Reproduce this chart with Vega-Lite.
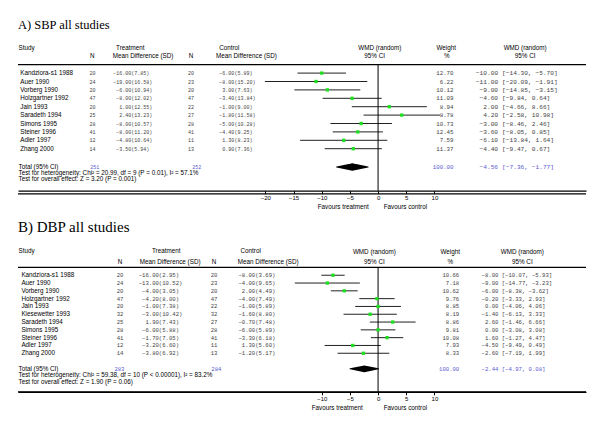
{
  "$schema": "https://vega.github.io/schema/vega-lite/v6.json",
  "background": "white",
  "padding": {"left": 17, "right": 15, "top": 18.5, "bottom": 5},
  "spacing": 9,
  "config": {
    "view": {"stroke": null},
    "text": {"font": "Liberation Sans", "fontSize": 6.3, "color": "black", "baseline": "middle"},
    "axis": {"grid": false, "domain": true, "ticks": true, "domainColor": "black", "domainWidth": 1.3, "tickColor": "black", "tickWidth": 1, "tickSize": 3, "labelFont": "Liberation Sans", "labelFontSize": 6, "labelColor": "black", "labelPadding": 1, "labelFlush": false, "zindex": 1}
  },
  "datasets": {
    "one": [{}],
    "A": [
      {"s": "Kandziora-s1 1988", "nt": 20, "mt": -16.00, "st": 7.85, "nc": 20, "mc": -6.00, "sc": 5.89, "w": 12.70, "e": -10.00, "lo": -14.30, "hi": -5.70},
      {"s": "Auer 1990", "nt": 24, "mt": -19.00, "st": 16.58, "nc": 23, "mc": -8.00, "sc": 15.20, "w": 6.22, "e": -11.00, "lo": -20.09, "hi": -1.91},
      {"s": "Vorberg 1990", "nt": 20, "mt": -6.00, "st": 10.94, "nc": 20, "mc": 3.00, "sc": 7.63, "w": 10.12, "e": -9.00, "lo": -14.85, "hi": -3.15},
      {"s": "Holzgartner 1992", "nt": 47, "mt": -8.00, "st": 12.02, "nc": 47, "mc": -3.40, "sc": 13.84, "w": 11.09, "e": -4.60, "lo": -9.84, "hi": 0.64},
      {"s": "Jain 1993", "nt": 20, "mt": 1.00, "st": 12.55, "nc": 22, "mc": -1.00, "sc": 9.00, "w": 8.94, "e": 2.00, "lo": -4.66, "hi": 8.66},
      {"s": "Saradeth 1994", "nt": 25, "mt": 2.40, "st": 13.23, "nc": 27, "mc": -1.80, "sc": 11.58, "w": 8.78, "e": 4.20, "lo": -2.58, "hi": 10.98},
      {"s": "Simons 1995", "nt": 28, "mt": -8.00, "st": 10.57, "nc": 28, "mc": -5.00, "sc": 10.28, "w": 10.73, "e": -3.00, "lo": -8.46, "hi": 2.46},
      {"s": "Steiner 1996", "nt": 41, "mt": -8.00, "st": 11.20, "nc": 41, "mc": -4.40, "sc": 9.25, "w": 12.45, "e": -3.60, "lo": -8.05, "hi": 0.85},
      {"s": "Adler 1997", "nt": 12, "mt": -4.80, "st": 10.64, "nc": 11, "mc": 1.30, "sc": 8.23, "w": 7.59, "e": -6.10, "lo": -13.84, "hi": 1.64},
      {"s": "Zhang 2000", "nt": 14, "mt": -3.50, "st": 5.94, "nc": 13, "mc": 0.90, "sc": 7.36, "w": 11.37, "e": -4.40, "lo": -9.47, "hi": 0.67}
    ],
    "At": [{"nt": 251, "nc": 252, "w": 100.00, "e": -4.56, "lo": -7.36, "hi": -1.77}],
    "B": [
      {"s": "Kandziora-s1 1988", "nt": 20, "mt": -16.00, "st": 2.95, "nc": 20, "mc": -8.00, "sc": 3.69, "w": 10.66, "e": -8.00, "lo": -10.07, "hi": -5.93},
      {"s": "Auer 1990", "nt": 24, "mt": -13.00, "st": 10.52, "nc": 23, "mc": -4.00, "sc": 9.65, "w": 7.18, "e": -9.00, "lo": -14.77, "hi": -3.23},
      {"s": "Vorberg 1990", "nt": 20, "mt": -4.00, "st": 3.05, "nc": 20, "mc": 2.00, "sc": 4.49, "w": 10.62, "e": -6.00, "lo": -8.38, "hi": -3.62},
      {"s": "Holzgartner 1992", "nt": 47, "mt": -4.20, "st": 8.00, "nc": 47, "mc": -4.00, "sc": 7.49, "w": 9.76, "e": -0.20, "lo": -3.33, "hi": 2.93},
      {"s": "Jain 1993", "nt": 20, "mt": -1.00, "st": 7.38, "nc": 22, "mc": -1.00, "sc": 5.89, "w": 8.85, "e": 0.00, "lo": -4.06, "hi": 4.06},
      {"s": "Kiesewetter 1993", "nt": 32, "mt": -3.00, "st": 10.42, "nc": 32, "mc": -1.60, "sc": 8.80, "w": 8.19, "e": -1.40, "lo": -6.13, "hi": 3.33},
      {"s": "Saradeth 1994", "nt": 25, "mt": 1.90, "st": 7.43, "nc": 27, "mc": -0.70, "sc": 7.48, "w": 8.86, "e": 2.60, "lo": -1.46, "hi": 6.66},
      {"s": "Simons 1995", "nt": 28, "mt": -6.00, "st": 5.88, "nc": 28, "mc": -6.00, "sc": 5.89, "w": 9.81, "e": 0.00, "lo": -3.08, "hi": 3.08},
      {"s": "Steiner 1996", "nt": 41, "mt": -1.70, "st": 7.05, "nc": 41, "mc": -3.30, "sc": 6.18, "w": 10.08, "e": 1.60, "lo": -1.27, "hi": 4.47},
      {"s": "Adler 1997", "nt": 12, "mt": -3.20, "st": 6.60, "nc": 11, "mc": 1.30, "sc": 5.60, "w": 7.93, "e": -4.50, "lo": -9.49, "hi": 0.49},
      {"s": "Zhang 2000", "nt": 14, "mt": -3.80, "st": 6.92, "nc": 13, "mc": -1.20, "sc": 5.17, "w": 8.33, "e": -2.60, "lo": -7.19, "hi": 1.99}
    ],
    "Bt": [{"nt": 283, "nc": 284, "w": 100.00, "e": -2.44, "lo": -4.97, "hi": 0.08}]
  },
  "vconcat": [
    {
      "title": {"text": "A) SBP all studies", "anchor": "start", "frame": "group", "font": "Liberation Serif", "fontSize": 12.5, "fontWeight": "normal", "color": "black", "offset": 8},
      "width": 568,
      "height": 151.2,
      "data": {"name": "A"},
      "resolve": {"axis": {"x": "independent"}},
      "layer": [
        {"mark": {"type": "rule", "color": "#222222", "strokeWidth": 1},
         "encoding": {
           "x": {"field": "lo", "type": "quantitative", "scale": {"domain": [-63.9, 36.9], "nice": false, "zero": false}, "axis": {"values": [-20, -15, -10, -5, 0, 5, 10], "format": "d", "title": null, "domain": true, "ticks": true, "zindex": 1}},
           "x2": {"field": "hi"},
           "y": {"field": "s", "type": "nominal", "axis": null, "scale": {"type": "point", "padding": 1.45, "domain": ["h1", "h2", "line", "Kandziora-s1 1988", "Auer 1990", "Vorberg 1990", "Holzgartner 1992", "Jain 1993", "Saradeth 1994", "Simons 1995", "Steiner 1996", "Adler 1997", "Zhang 2000", "gap", "total", "het", "ovr"]}}
         }},
        {"data": {"name": "one"}, "mark": {"type": "rule", "color": "black", "strokeWidth": 1.2}, "encoding": {"y": {"datum": "line", "type": "nominal", "axis": null}}},
        {"data": {"name": "one"}, "mark": {"type": "rule", "color": "black", "strokeWidth": 1.3, "yOffset": 11.6}, "encoding": {"x": {"datum": -63.9, "type": "quantitative", "axis": null}, "x2": {"datum": 36.9}, "y": {"datum": "ovr", "type": "nominal", "axis": null}}},
        {"data": {"name": "one"}, "mark": {"type": "rule", "color": "black", "strokeWidth": 1}, "encoding": {"x": {"datum": 0, "type": "quantitative", "axis": null}, "y": {"datum": "line", "type": "nominal", "axis": null}, "y2": {"value": "height"}}},
        {"mark": {"type": "point", "shape": "square", "filled": true, "color": "#1ee01e", "size": 11, "opacity": 1}, "encoding": {"x": {"field": "e", "type": "quantitative", "axis": null}, "y": {"field": "s", "type": "nominal", "axis": null}}},
        {"mark": {"type": "text", "align": "left"}, "encoding": {"x": {"datum": -63.5, "type": "quantitative", "axis": null}, "y": {"field": "s", "type": "nominal", "axis": null}, "text": {"field": "s"}}},
        {"mark": {"type": "text", "align": "center", "font": "Liberation Mono", "fontSize": 5, "color": "#444444"}, "encoding": {"x": {"datum": -50.7, "type": "quantitative", "axis": null}, "y": {"field": "s", "type": "nominal", "axis": null}, "text": {"field": "nt"}}},
        {"mark": {"type": "text", "align": "right", "font": "Liberation Mono", "fontSize": 5, "color": "#444444"}, "encoding": {"x": {"datum": -43.8, "type": "quantitative", "axis": null}, "y": {"field": "s", "type": "nominal", "axis": null}, "text": {"field": "mt", "format": ".2f"}}},
        {"transform": [{"calculate": "'(' + format(datum.st, '.2f') + ')'", "as": "lab"}], "mark": {"type": "text", "align": "left", "font": "Liberation Mono", "fontSize": 5, "color": "#444444"}, "encoding": {"x": {"datum": -43.8, "type": "quantitative", "axis": null}, "y": {"field": "s", "type": "nominal", "axis": null}, "text": {"field": "lab"}}},
        {"mark": {"type": "text", "align": "center", "font": "Liberation Mono", "fontSize": 5, "color": "#444444"}, "encoding": {"x": {"datum": -33.2, "type": "quantitative", "axis": null}, "y": {"field": "s", "type": "nominal", "axis": null}, "text": {"field": "nc"}}},
        {"mark": {"type": "text", "align": "right", "font": "Liberation Mono", "fontSize": 5, "color": "#444444"}, "encoding": {"x": {"datum": -25.5, "type": "quantitative", "axis": null}, "y": {"field": "s", "type": "nominal", "axis": null}, "text": {"field": "mc", "format": ".2f"}}},
        {"transform": [{"calculate": "'(' + format(datum.sc, '.2f') + ')'", "as": "lab"}], "mark": {"type": "text", "align": "left", "font": "Liberation Mono", "fontSize": 5, "color": "#444444"}, "encoding": {"x": {"datum": -25.5, "type": "quantitative", "axis": null}, "y": {"field": "s", "type": "nominal", "axis": null}, "text": {"field": "lab"}}},
        {"mark": {"type": "text", "align": "right", "font": "Liberation Mono", "fontSize": 5.8, "color": "#444444"}, "encoding": {"x": {"datum": 13.4, "type": "quantitative", "axis": null}, "y": {"field": "s", "type": "nominal", "axis": null}, "text": {"field": "w", "format": ".2f"}}},
        {"mark": {"type": "text", "align": "right", "font": "Liberation Mono", "fontSize": 6.2, "color": "#444444"}, "encoding": {"x": {"datum": 21.3, "type": "quantitative", "axis": null}, "y": {"field": "s", "type": "nominal", "axis": null}, "text": {"field": "e", "format": ".2f"}}},
        {"transform": [{"calculate": "'[' + format(datum.lo, '.2f') + ', ' + format(datum.hi, '.2f') + ']'", "as": "lab"}], "mark": {"type": "text", "align": "left", "font": "Liberation Mono", "fontSize": 6.2, "color": "#444444"}, "encoding": {"x": {"datum": 22.0, "type": "quantitative", "axis": null}, "y": {"field": "s", "type": "nominal", "axis": null}, "text": {"field": "lab"}}},
        {"data": {"name": "At"}, "transform": [{"fold": ["lo", "e", "hi"], "as": ["k", "v"]}], "mark": {"type": "trail", "color": "black", "yOffset": 1.5}, "encoding": {"x": {"field": "v", "type": "quantitative", "axis": null}, "y": {"datum": "total", "type": "nominal", "axis": null}, "order": {"field": "v", "type": "quantitative"}, "size": {"condition": {"test": "datum.k === 'e'", "value": 7.3}, "value": 0}}},
        {"data": {"name": "At"}, "mark": {"type": "text", "align": "left", "text": "Total (95% CI)", "dy": 1.5}, "encoding": {"x": {"datum": -63.8, "type": "quantitative", "axis": null}, "y": {"datum": "total", "type": "nominal", "axis": null}}},
        {"data": {"name": "At"}, "mark": {"type": "text", "align": "center", "font": "Liberation Mono", "fontSize": 5, "color": "#5a5acf", "dy": 1.5}, "encoding": {"x": {"datum": -50.3, "type": "quantitative", "axis": null}, "y": {"datum": "total", "type": "nominal", "axis": null}, "text": {"field": "nt"}}},
        {"data": {"name": "At"}, "mark": {"type": "text", "align": "center", "font": "Liberation Mono", "fontSize": 5, "color": "#5a5acf", "dy": 1.5}, "encoding": {"x": {"datum": -32.2, "type": "quantitative", "axis": null}, "y": {"datum": "total", "type": "nominal", "axis": null}, "text": {"field": "nc"}}},
        {"data": {"name": "At"}, "mark": {"type": "text", "align": "right", "font": "Liberation Mono", "fontSize": 5.8, "color": "#5a5acf", "dy": 1.5}, "encoding": {"x": {"datum": 13.4, "type": "quantitative", "axis": null}, "y": {"datum": "total", "type": "nominal", "axis": null}, "text": {"field": "w", "format": ".2f"}}},
        {"data": {"name": "At"}, "mark": {"type": "text", "align": "right", "font": "Liberation Mono", "fontSize": 6.2, "color": "#5a5acf", "dy": 1.5}, "encoding": {"x": {"datum": 21.3, "type": "quantitative", "axis": null}, "y": {"datum": "total", "type": "nominal", "axis": null}, "text": {"field": "e", "format": ".2f"}}},
        {"data": {"name": "At"}, "transform": [{"calculate": "'[' + format(datum.lo, '.2f') + ', ' + format(datum.hi, '.2f') + ']'", "as": "lab"}], "mark": {"type": "text", "align": "left", "font": "Liberation Mono", "fontSize": 6.2, "color": "#5a5acf", "dy": 1.5}, "encoding": {"x": {"datum": 22.0, "type": "quantitative", "axis": null}, "y": {"datum": "total", "type": "nominal", "axis": null}, "text": {"field": "lab"}}},
        {"data": {"name": "one"}, "mark": {"type": "text", "align": "left", "text": "Test for heterogeneity: Chi² = 20.99, df = 9 (P = 0.01), I² = 57.1%", "dy": -0.5}, "encoding": {"x": {"datum": -63.8, "type": "quantitative", "axis": null}, "y": {"datum": "het", "type": "nominal", "axis": null}}},
        {"data": {"name": "one"}, "mark": {"type": "text", "align": "left", "text": "Test for overall effect: Z = 3.20 (P = 0.001)", "dy": -3}, "encoding": {"x": {"datum": -63.8, "type": "quantitative", "axis": null}, "y": {"datum": "ovr", "type": "nominal", "axis": null}}},
        {"data": {"name": "one"}, "mark": {"type": "text", "align": "left", "text": "Study"}, "encoding": {"x": {"datum": -63.8, "type": "quantitative", "axis": null}, "y": {"datum": "h1", "type": "nominal", "axis": null}}},
        {"data": {"name": "one"}, "mark": {"type": "text", "align": "left", "text": "Treatment"}, "encoding": {"x": {"datum": -46.5, "type": "quantitative", "axis": null}, "y": {"datum": "h1", "type": "nominal", "axis": null}}},
        {"data": {"name": "one"}, "mark": {"type": "text", "align": "left", "text": "Control"}, "encoding": {"x": {"datum": -28.2, "type": "quantitative", "axis": null}, "y": {"datum": "h1", "type": "nominal", "axis": null}}},
        {"data": {"name": "one"}, "mark": {"type": "text", "align": "center", "text": "WMD (random)"}, "encoding": {"x": {"datum": 0.3, "type": "quantitative", "axis": null}, "y": {"datum": "h1", "type": "nominal", "axis": null}}},
        {"data": {"name": "one"}, "mark": {"type": "text", "align": "center", "text": "Weight"}, "encoding": {"x": {"datum": 12.1, "type": "quantitative", "axis": null}, "y": {"datum": "h1", "type": "nominal", "axis": null}}},
        {"data": {"name": "one"}, "mark": {"type": "text", "align": "center", "text": "WMD (random)"}, "encoding": {"x": {"datum": 26.1, "type": "quantitative", "axis": null}, "y": {"datum": "h1", "type": "nominal", "axis": null}}},
        {"data": {"name": "one"}, "mark": {"type": "text", "align": "center", "text": "N"}, "encoding": {"x": {"datum": -50.7, "type": "quantitative", "axis": null}, "y": {"datum": "h2", "type": "nominal", "axis": null}}},
        {"data": {"name": "one"}, "mark": {"type": "text", "align": "left", "text": "Mean Difference (SD)"}, "encoding": {"x": {"datum": -47.1, "type": "quantitative", "axis": null}, "y": {"datum": "h2", "type": "nominal", "axis": null}}},
        {"data": {"name": "one"}, "mark": {"type": "text", "align": "center", "text": "N"}, "encoding": {"x": {"datum": -33.2, "type": "quantitative", "axis": null}, "y": {"datum": "h2", "type": "nominal", "axis": null}}},
        {"data": {"name": "one"}, "mark": {"type": "text", "align": "left", "text": "Mean  Difference (SD)"}, "encoding": {"x": {"datum": -28.75, "type": "quantitative", "axis": null}, "y": {"datum": "h2", "type": "nominal", "axis": null}}},
        {"data": {"name": "one"}, "mark": {"type": "text", "align": "center", "text": "95% CI"}, "encoding": {"x": {"datum": -0.6, "type": "quantitative", "axis": null}, "y": {"datum": "h2", "type": "nominal", "axis": null}}},
        {"data": {"name": "one"}, "mark": {"type": "text", "align": "center", "text": "%"}, "encoding": {"x": {"datum": 12.2, "type": "quantitative", "axis": null}, "y": {"datum": "h2", "type": "nominal", "axis": null}}},
        {"data": {"name": "one"}, "mark": {"type": "text", "align": "center", "text": "95% CI"}, "encoding": {"x": {"datum": 26.1, "type": "quantitative", "axis": null}, "y": {"datum": "h2", "type": "nominal", "axis": null}}},
        {"data": {"name": "one"}, "mark": {"type": "text", "align": "right", "text": "Favours treatment", "dy": 16.5}, "encoding": {"x": {"datum": -1.65, "type": "quantitative", "axis": null}, "y": {"value": "height"}}},
        {"data": {"name": "one"}, "mark": {"type": "text", "align": "left", "text": "Favours control", "dy": 16.5}, "encoding": {"x": {"datum": 1.0, "type": "quantitative", "axis": null}, "y": {"value": "height"}}}
      ]
    },
    {
      "title": {"text": "B) DBP all studies", "anchor": "start", "frame": "group", "font": "Liberation Serif", "fontSize": 15, "fontWeight": "normal", "color": "black", "offset": 9.6},
      "width": 568,
      "height": 147.3,
      "data": {"name": "B"},
      "resolve": {"axis": {"x": "independent"}},
      "layer": [
        {"mark": {"type": "rule", "color": "#222222", "strokeWidth": 1},
         "encoding": {
           "x": {"field": "lo", "type": "quantitative", "scale": {"domain": [-63.9, 36.9], "nice": false, "zero": false}, "axis": {"values": [-10, -5, 0, 5, 10], "format": "d", "title": null, "domain": true, "ticks": true, "zindex": 1}},
           "x2": {"field": "hi"},
           "y": {"field": "s", "type": "nominal", "axis": null, "scale": {"type": "point", "padding": 0.94, "domain": ["h1", "h2", "line", "Kandziora-s1 1988", "Auer 1990", "Vorberg 1990", "Holzgartner 1992", "Jain 1993", "Kiesewetter 1993", "Saradeth 1994", "Simons 1995", "Steiner 1996", "Adler 1997", "Zhang 2000", "gap", "total", "het", "ovr"]}}
         }},
        {"data": {"name": "one"}, "mark": {"type": "rule", "color": "black", "strokeWidth": 1.2}, "encoding": {"y": {"datum": "line", "type": "nominal", "axis": null}}},
        {"data": {"name": "one"}, "mark": {"type": "rule", "color": "black", "strokeWidth": 1.3, "yOffset": 7.33}, "encoding": {"x": {"datum": -63.9, "type": "quantitative", "axis": null}, "x2": {"datum": 36.9}, "y": {"datum": "ovr", "type": "nominal", "axis": null}}},
        {"data": {"name": "one"}, "mark": {"type": "rule", "color": "black", "strokeWidth": 1}, "encoding": {"x": {"datum": 0, "type": "quantitative", "axis": null}, "y": {"datum": "line", "type": "nominal", "axis": null}, "y2": {"value": "height"}}},
        {"mark": {"type": "point", "shape": "square", "filled": true, "color": "#1ee01e", "size": 11, "opacity": 1}, "encoding": {"x": {"field": "e", "type": "quantitative", "axis": null}, "y": {"field": "s", "type": "nominal", "axis": null}}},
        {"mark": {"type": "text", "align": "left"}, "encoding": {"x": {"datum": -63.3, "type": "quantitative", "axis": null}, "y": {"field": "s", "type": "nominal", "axis": null}, "text": {"field": "s"}}},
        {"mark": {"type": "text", "align": "center", "font": "Liberation Mono", "fontSize": 5.6, "color": "#444444"}, "encoding": {"x": {"datum": -45.8, "type": "quantitative", "axis": null}, "y": {"field": "s", "type": "nominal", "axis": null}, "text": {"field": "nt"}}},
        {"mark": {"type": "text", "align": "right", "font": "Liberation Mono", "fontSize": 5.6, "color": "#444444"}, "encoding": {"x": {"datum": -38.9, "type": "quantitative", "axis": null}, "y": {"field": "s", "type": "nominal", "axis": null}, "text": {"field": "mt", "format": ".2f"}}},
        {"transform": [{"calculate": "'(' + format(datum.st, '.2f') + ')'", "as": "lab"}], "mark": {"type": "text", "align": "left", "font": "Liberation Mono", "fontSize": 5.6, "color": "#444444"}, "encoding": {"x": {"datum": -38.9, "type": "quantitative", "axis": null}, "y": {"field": "s", "type": "nominal", "axis": null}, "text": {"field": "lab"}}},
        {"mark": {"type": "text", "align": "center", "font": "Liberation Mono", "fontSize": 5.6, "color": "#444444"}, "encoding": {"x": {"datum": -29.1, "type": "quantitative", "axis": null}, "y": {"field": "s", "type": "nominal", "axis": null}, "text": {"field": "nc"}}},
        {"mark": {"type": "text", "align": "right", "font": "Liberation Mono", "fontSize": 5.6, "color": "#444444"}, "encoding": {"x": {"datum": -21.8, "type": "quantitative", "axis": null}, "y": {"field": "s", "type": "nominal", "axis": null}, "text": {"field": "mc", "format": ".2f"}}},
        {"transform": [{"calculate": "'(' + format(datum.sc, '.2f') + ')'", "as": "lab"}], "mark": {"type": "text", "align": "left", "font": "Liberation Mono", "fontSize": 5.6, "color": "#444444"}, "encoding": {"x": {"datum": -21.8, "type": "quantitative", "axis": null}, "y": {"field": "s", "type": "nominal", "axis": null}, "text": {"field": "lab"}}},
        {"mark": {"type": "text", "align": "right", "font": "Liberation Mono", "fontSize": 5.6, "color": "#444444"}, "encoding": {"x": {"datum": 14.4, "type": "quantitative", "axis": null}, "y": {"field": "s", "type": "nominal", "axis": null}, "text": {"field": "w", "format": ".2f"}}},
        {"mark": {"type": "text", "align": "right", "font": "Liberation Mono", "fontSize": 5.6, "color": "#444444"}, "encoding": {"x": {"datum": 21.35, "type": "quantitative", "axis": null}, "y": {"field": "s", "type": "nominal", "axis": null}, "text": {"field": "e", "format": ".2f"}}},
        {"transform": [{"calculate": "'[' + format(datum.lo, '.2f') + ', ' + format(datum.hi, '.2f') + ']'", "as": "lab"}], "mark": {"type": "text", "align": "left", "font": "Liberation Mono", "fontSize": 5.6, "color": "#444444"}, "encoding": {"x": {"datum": 21.95, "type": "quantitative", "axis": null}, "y": {"field": "s", "type": "nominal", "axis": null}, "text": {"field": "lab"}}},
        {"data": {"name": "Bt"}, "transform": [{"fold": ["lo", "e", "hi"], "as": ["k", "v"]}], "mark": {"type": "trail", "color": "black"}, "encoding": {"x": {"field": "v", "type": "quantitative", "axis": null}, "y": {"datum": "total", "type": "nominal", "axis": null}, "order": {"field": "v", "type": "quantitative"}, "size": {"condition": {"test": "datum.k === 'e'", "value": 6.7}, "value": 0}}},
        {"data": {"name": "Bt"}, "mark": {"type": "text", "align": "left", "text": "Total (95% CI)"}, "encoding": {"x": {"datum": -63.8, "type": "quantitative", "axis": null}, "y": {"datum": "total", "type": "nominal", "axis": null}}},
        {"data": {"name": "Bt"}, "mark": {"type": "text", "align": "center", "font": "Liberation Mono", "fontSize": 5.6, "color": "#5a5acf"}, "encoding": {"x": {"datum": -45.9, "type": "quantitative", "axis": null}, "y": {"datum": "total", "type": "nominal", "axis": null}, "text": {"field": "nt"}}},
        {"data": {"name": "Bt"}, "mark": {"type": "text", "align": "center", "font": "Liberation Mono", "fontSize": 5.6, "color": "#5a5acf"}, "encoding": {"x": {"datum": -28.7, "type": "quantitative", "axis": null}, "y": {"datum": "total", "type": "nominal", "axis": null}, "text": {"field": "nc"}}},
        {"data": {"name": "Bt"}, "mark": {"type": "text", "align": "right", "font": "Liberation Mono", "fontSize": 5.6, "color": "#5a5acf"}, "encoding": {"x": {"datum": 14.4, "type": "quantitative", "axis": null}, "y": {"datum": "total", "type": "nominal", "axis": null}, "text": {"field": "w", "format": ".2f"}}},
        {"data": {"name": "Bt"}, "mark": {"type": "text", "align": "right", "font": "Liberation Mono", "fontSize": 5.6, "color": "#5a5acf"}, "encoding": {"x": {"datum": 21.35, "type": "quantitative", "axis": null}, "y": {"datum": "total", "type": "nominal", "axis": null}, "text": {"field": "e", "format": ".2f"}}},
        {"data": {"name": "Bt"}, "transform": [{"calculate": "'[' + format(datum.lo, '.2f') + ', ' + format(datum.hi, '.2f') + ']'", "as": "lab"}], "mark": {"type": "text", "align": "left", "font": "Liberation Mono", "fontSize": 5.6, "color": "#5a5acf"}, "encoding": {"x": {"datum": 21.95, "type": "quantitative", "axis": null}, "y": {"datum": "total", "type": "nominal", "axis": null}, "text": {"field": "lab"}}},
        {"data": {"name": "one"}, "mark": {"type": "text", "align": "left", "text": "Test for heterogeneity: Chi² = 59.38, df = 10 (P < 0.00001), I² = 83.2%", "dy": -1.3}, "encoding": {"x": {"datum": -63.8, "type": "quantitative", "axis": null}, "y": {"datum": "het", "type": "nominal", "axis": null}}},
        {"data": {"name": "one"}, "mark": {"type": "text", "align": "left", "text": "Test for overall effect: Z = 1.90 (P = 0.06)", "dy": -2.5}, "encoding": {"x": {"datum": -63.8, "type": "quantitative", "axis": null}, "y": {"datum": "ovr", "type": "nominal", "axis": null}}},
        {"data": {"name": "one"}, "mark": {"type": "text", "align": "left", "text": "Study", "dy": -1}, "encoding": {"x": {"datum": -63.8, "type": "quantitative", "axis": null}, "y": {"datum": "h1", "type": "nominal", "axis": null}}},
        {"data": {"name": "one"}, "mark": {"type": "text", "align": "center", "text": "Treatment", "dy": -1}, "encoding": {"x": {"datum": -37.6, "type": "quantitative", "axis": null}, "y": {"datum": "h1", "type": "nominal", "axis": null}}},
        {"data": {"name": "one"}, "mark": {"type": "text", "align": "center", "text": "Control", "dy": -1}, "encoding": {"x": {"datum": -22.6, "type": "quantitative", "axis": null}, "y": {"datum": "h1", "type": "nominal", "axis": null}}},
        {"data": {"name": "one"}, "mark": {"type": "text", "align": "center", "text": "WMD (random)", "dy": 0.5}, "encoding": {"x": {"datum": -0.65, "type": "quantitative", "axis": null}, "y": {"datum": "h1", "type": "nominal", "axis": null}}},
        {"data": {"name": "one"}, "mark": {"type": "text", "align": "center", "text": "Weight", "dy": 0.5}, "encoding": {"x": {"datum": 12.8, "type": "quantitative", "axis": null}, "y": {"datum": "h1", "type": "nominal", "axis": null}}},
        {"data": {"name": "one"}, "mark": {"type": "text", "align": "center", "text": "WMD (random)", "dy": 0.5}, "encoding": {"x": {"datum": 25.6, "type": "quantitative", "axis": null}, "y": {"datum": "h1", "type": "nominal", "axis": null}}},
        {"data": {"name": "one"}, "mark": {"type": "text", "align": "center", "text": "N", "dy": 2.3}, "encoding": {"x": {"datum": -45.8, "type": "quantitative", "axis": null}, "y": {"datum": "h2", "type": "nominal", "axis": null}}},
        {"data": {"name": "one"}, "mark": {"type": "text", "align": "center", "text": "Mean Difference (SD)", "dy": 2.3}, "encoding": {"x": {"datum": -36.9, "type": "quantitative", "axis": null}, "y": {"datum": "h2", "type": "nominal", "axis": null}}},
        {"data": {"name": "one"}, "mark": {"type": "text", "align": "center", "text": "N", "dy": 2.3}, "encoding": {"x": {"datum": -29.1, "type": "quantitative", "axis": null}, "y": {"datum": "h2", "type": "nominal", "axis": null}}},
        {"data": {"name": "one"}, "mark": {"type": "text", "align": "center", "text": "Mean Difference (SD)", "dy": 2.3}, "encoding": {"x": {"datum": -19.5, "type": "quantitative", "axis": null}, "y": {"datum": "h2", "type": "nominal", "axis": null}}},
        {"data": {"name": "one"}, "mark": {"type": "text", "align": "center", "text": "95% CI", "dy": 2}, "encoding": {"x": {"datum": -0.65, "type": "quantitative", "axis": null}, "y": {"datum": "h2", "type": "nominal", "axis": null}}},
        {"data": {"name": "one"}, "mark": {"type": "text", "align": "center", "text": "%", "dy": 2}, "encoding": {"x": {"datum": 12.8, "type": "quantitative", "axis": null}, "y": {"datum": "h2", "type": "nominal", "axis": null}}},
        {"data": {"name": "one"}, "mark": {"type": "text", "align": "center", "text": "95% CI", "dy": 2}, "encoding": {"x": {"datum": 25.6, "type": "quantitative", "axis": null}, "y": {"datum": "h2", "type": "nominal", "axis": null}}},
        {"data": {"name": "one"}, "mark": {"type": "text", "align": "right", "text": "Favours treatment", "dy": 16.5}, "encoding": {"x": {"datum": -2.7, "type": "quantitative", "axis": null}, "y": {"value": "height"}}},
        {"data": {"name": "one"}, "mark": {"type": "text", "align": "left", "text": "Favours control", "dy": 16.5}, "encoding": {"x": {"datum": 1.0, "type": "quantitative", "axis": null}, "y": {"value": "height"}}}
      ]
    }
  ]
}
